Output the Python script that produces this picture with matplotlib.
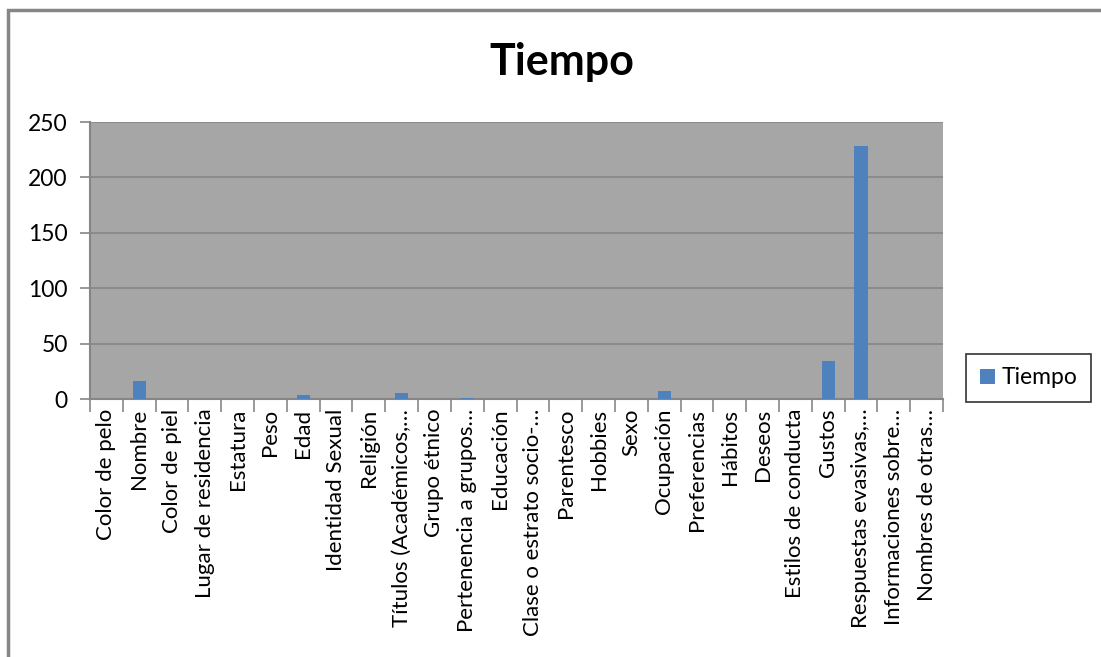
import matplotlib
matplotlib.use("Agg")
import matplotlib.pyplot as plt
import numpy as np
from matplotlib.patches import Rectangle

categories = [
    "Color de pelo", "Nombre", "Color de piel", "Lugar de residencia",
    "Estatura", "Peso", "Edad", "Identidad Sexual", "Religión",
    "Títulos (Académicos,…", "Grupo étnico", "Pertenencia a grupos…",
    "Educación", "Clase o estrato socio-…", "Parentesco", "Hobbies",
    "Sexo", "Ocupación", "Preferencias", "Hábitos", "Deseos",
    "Estilos de conducta", "Gustos", "Respuestas evasivas,…",
    "Informaciones sobre…", "Nombres de otras…",
]
tiempo = [0, 16, 0, 0, 0, 0, 4, 0, 0, 5, 0, 1, 0, 0, 0, 0,
          0, 7, 0, 0, 0, 0, 34, 228, 0, 0]
y_ticks = [0, 50, 100, 150, 200, 250]

plt.rcParams["font.family"] = ["Lato", "DejaVu Sans"]

W, H = 1101, 657
fig = plt.figure(figsize=(W / 100, H / 100), dpi=100)
fig.patch.set_facecolor("white")

# outer chart border
fig.add_artist(Rectangle((8 / W, -0.05), 1.2, 1 - 10 / H + 0.05,
                         transform=fig.transFigure, fill=False,
                         edgecolor="#868686", linewidth=2.5))

ax = fig.add_axes([90 / W, 1 - 399 / H, (943 - 90) / W, 277 / H])
ax.set_facecolor("#a6a6a6")

x = np.arange(len(categories))
ax.bar(x, tiempo, width=0.4, color="#4f81bd", label="Tiempo", zorder=3)

ax.set_xlim(-0.5, len(categories) - 0.5)
ax.set_ylim(0, 250)
ax.set_yticks(y_ticks)
ax.tick_params(axis="y", labelsize=16.5, length=7, color="#868686",
               width=1.2, pad=9)
ax.yaxis.grid(True, color="#868686", linewidth=1.2, zorder=1)
ax.set_axisbelow(True)

ax.set_xticks(x)
ax.set_xticklabels(categories, rotation=90, fontsize=16, ha="center", va="top")
ax.tick_params(axis="x", length=0, pad=7)
ax.set_xticks(np.arange(-0.5, len(categories) + 0.5, 1), minor=True)
ax.tick_params(axis="x", which="minor", length=9, color="#868686", width=1.2)

for side in ["top", "right"]:
    ax.spines[side].set_visible(False)
for side in ["left", "bottom"]:
    ax.spines[side].set_color("#868686")
    ax.spines[side].set_linewidth(1.5)

fig.text(562 / W, 1 - 62 / H, "Tiempo", fontsize=31, fontweight="bold",
         ha="center", va="center")

leg = fig.legend(loc="center left", bbox_to_anchor=(966 / W, 1 - 378 / H),
                 fontsize=16.5, frameon=True, fancybox=False,
                 handlelength=0.65, handleheight=0.65, handletextpad=0.3,
                 borderpad=0.6, borderaxespad=0)
leg.get_frame().set_edgecolor("black")
leg.get_frame().set_linewidth(1.2)

fig.savefig("out.png", dpi=100)
